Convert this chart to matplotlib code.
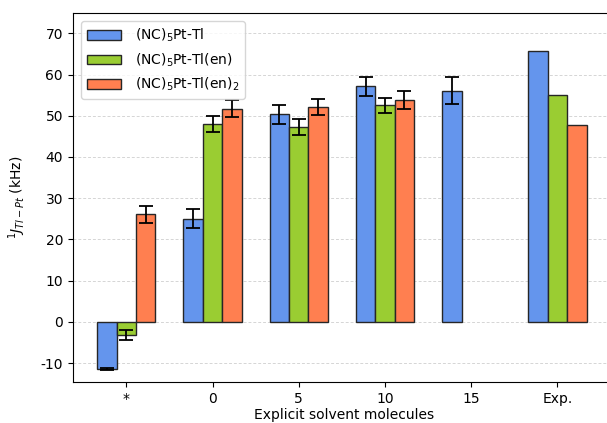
import numpy as np
import matplotlib
matplotlib.use('Agg')
import matplotlib.pyplot as plt

plt.rcParams['axes.unicode_minus'] = False

# x categories
groups = ['*', '0', '5', '10', '15', 'Exp.']

# J couplings (kHz) and errors per complex, nan = not computed
pt_tl = [-11.5, 25.0, 50.3, 57.1, 56.1, 65.8]
pt_tl_err = [0.3, 2.3, 2.4, 2.4, 3.2, 0.0]
pt_tl_en = [-3.2, 48.0, 47.3, 52.5, np.nan, 55.0]
pt_tl_en_err = [1.2, 2.0, 2.0, 1.8, np.nan, 0.0]
pt_tl_en2 = [26.1, 51.7, 52.1, 53.8, np.nan, 47.8]
pt_tl_en2_err = [2.1, 2.0, 2.0, 2.1, np.nan, 0.0]

labels = [r'(NC)$_5$Pt-Tl', r'(NC)$_5$Pt-Tl(en)', r'(NC)$_5$Pt-Tl(en)$_2$']
colors = ['cornflowerblue', 'yellowgreen', 'coral']


def plot_couplings():
    fig = plt.figure(figsize=(6.07, 4.23), dpi=100)
    ax = fig.add_axes([0.120, 0.097, 0.895, 0.872])

    x = np.arange(len(groups))
    width = 0.225
    series = [(pt_tl, pt_tl_err), (pt_tl_en, pt_tl_en_err), (pt_tl_en2, pt_tl_en2_err)]
    for i, (vals, errs) in enumerate(series):
        vals = np.array(vals, dtype=float)
        errs = np.array(errs, dtype=float)
        pos = x + (i - 1) * width
        ax.bar(pos, vals, width, color=colors[i], edgecolor='#262626',
               linewidth=1.0, label=labels[i], zorder=3)
        # no error bars on the experimental values
        m = ~np.isnan(vals) & (errs > 0)
        ax.errorbar(pos[m], vals[m], yerr=errs[m], fmt='none', ecolor='black',
                    elinewidth=1.3, capsize=5, capthick=1.3, zorder=4)

    # formatting
    ax.set_xticks(x)
    ax.set_xticklabels(groups)
    ax.set_xlim(-0.62, 5.68)
    ax.set_ylim(-14.6, 74.9)
    ax.set_yticks(np.arange(-10, 71, 10))
    ax.yaxis.grid(True, linestyle=(0, (3, 2)), color='#d5d5d5', linewidth=0.7, zorder=0)
    ax.set_axisbelow(True)
    ax.set_xlabel('Explicit solvent molecules', labelpad=2)
    ax.set_ylabel(r'$^1J_{Tl-Pt}$ (kHz)', labelpad=9)
    ax.legend(loc='upper left', handlelength=2.5, handletextpad=1.0, borderaxespad=0.6)

    fig.savefig('out.png', dpi=100)


if __name__ == '__main__':
    plot_couplings()
